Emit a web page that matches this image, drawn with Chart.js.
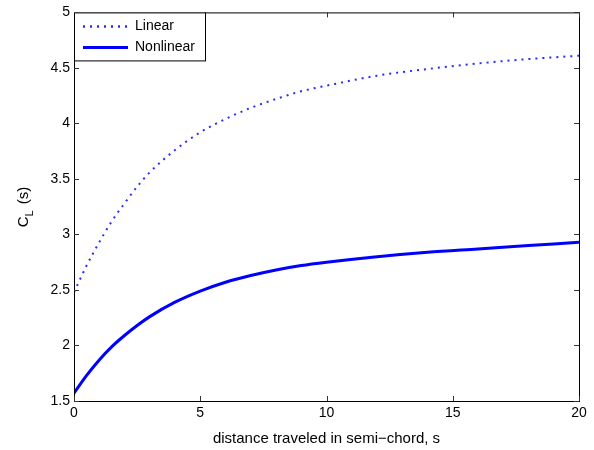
<!DOCTYPE html>
<html>
<head>
<meta charset="utf-8">
<script src="https://cdn.jsdelivr.net/npm/chart.js@4.4.1/dist/chart.umd.min.js"></script>
<style>
  html, body { margin: 0; padding: 0; background: #fff; }
  #wrap { width: 594px; height: 450px; }
</style>
</head>
<body>
<div id="wrap"><canvas id="chart1" width="594" height="450"></canvas></div>
<script>
// distance in semi-chords
const distance = [0, 0.5, 1, 1.5, 2, 2.5, 3, 4, 5, 6, 7, 8, 9, 10, 12, 14, 16, 18, 20];
const linearCL = [2.48, 2.72, 2.93, 3.12, 3.28, 3.43, 3.56, 3.76, 3.92, 4.04, 4.14, 4.22, 4.29, 4.34, 4.43, 4.49, 4.54, 4.58, 4.61];
const nonlinearCL = [1.57, 1.73, 1.87, 1.99, 2.09, 2.18, 2.26, 2.39, 2.49, 2.57, 2.63, 2.68, 2.72, 2.75, 2.80, 2.84, 2.87, 2.90, 2.93];
const xTicks = [0, 5, 10, 15, 20];
const yTicks = [1.5, 2, 2.5, 3, 3.5, 4, 4.5, 5];
const seriesNames = ['Linear', 'Nonlinear'];

const FONT = '"Liberation Sans", Arial, Helvetica, sans-serif';

function toPoints(ys) {
    return distance.map((x, i) => ({ x: x, y: ys[i] }));
}

// box around the plot with inward ticks on all four sides
const framePlugin = {
    id: 'frame',
    afterDraw(chart) {
        const { ctx, chartArea: a, scales } = chart;
        ctx.save();
        ctx.strokeStyle = '#000';
        ctx.lineWidth = 1;
        ctx.strokeRect(a.left + 0.5, a.top + 0.5, a.right - a.left, a.bottom - a.top);
        ctx.strokeStyle = '#333';
        ctx.beginPath();
        xTicks.forEach(v => {
            const px = Math.round(scales.x.getPixelForValue(v)) + 0.5;
            ctx.moveTo(px, a.bottom); ctx.lineTo(px, a.bottom - 5);
            ctx.moveTo(px, a.top); ctx.lineTo(px, a.top + 5);
        });
        yTicks.forEach(v => {
            const py = Math.round(scales.y.getPixelForValue(v)) + 0.5;
            ctx.moveTo(a.left, py); ctx.lineTo(a.left + 5, py);
            ctx.moveTo(a.right, py); ctx.lineTo(a.right - 5, py);
        });
        ctx.stroke();

        // y axis label C_L (s)
        ctx.fillStyle = '#000';
        ctx.translate(28, 207);
        ctx.rotate(-Math.PI / 2);
        ctx.textBaseline = 'alphabetic';
        ctx.textAlign = 'left';
        ctx.font = '15px ' + FONT;
        const cW = ctx.measureText('C').width;
        const lblW = cW + 8 + ctx.measureText(' (s)').width;
        let x0 = -lblW / 2;
        ctx.fillText('C', x0, 0);
        ctx.font = '11px ' + FONT;
        ctx.fillText('L', x0 + cW, 5);
        ctx.font = '15px ' + FONT;
        ctx.fillText(' (s)', x0 + cW + 8, 0);
        ctx.restore();

        // legend box
        const ds = chart.data.datasets;
        const bx = a.left, by = a.top, bw = 131, bh = 48;
        ctx.save();
        ctx.fillStyle = '#fff';
        ctx.fillRect(bx, by, bw, bh);
        ctx.strokeStyle = '#000';
        ctx.lineWidth = 1;
        ctx.strokeRect(bx + 0.5, by + 0.5, bw, bh);
        ctx.font = '14px ' + FONT;
        ctx.textBaseline = 'middle';
        ds.forEach((d, i) => {
            const ly = by + 14 + i * 21;
            ctx.strokeStyle = d.borderColor;
            ctx.lineWidth = i === 0 ? 2.5 : 3;
            ctx.setLineDash(d.borderDash || []);
            ctx.beginPath();
            ctx.moveTo(bx + 9, ly);
            ctx.lineTo(bx + 54, ly);
            ctx.stroke();
            ctx.setLineDash([]);
            ctx.fillStyle = '#000';
            ctx.fillText(d.label, bx + 61, ly);
        });
        ctx.restore();
    }
};

new Chart(document.querySelector('#chart1').getContext('2d'), {
    type: 'line',
    data: {
        datasets: [{
            label: seriesNames[0],
            data: toPoints(linearCL),
            borderColor: '#2a2aff',
            borderWidth: 2,
            borderDash: [2, 5],
            pointRadius: 0,
            cubicInterpolationMode: 'monotone',
            fill: false
        }, {
            label: seriesNames[1],
            data: toPoints(nonlinearCL),
            borderColor: '#0000ff',
            borderWidth: 3,
            pointRadius: 0,
            cubicInterpolationMode: 'monotone',
            fill: false
        }]
    },
    options: {
        responsive: false,
        animation: false,
        layout: { padding: { left: 0, top: 9, right: 15, bottom: 0 } },
        plugins: {
            legend: { display: false },
            tooltip: { enabled: false }
        },
        scales: {
            x: {
                type: 'linear',
                min: 0,
                max: 20,
                grid: { display: false, drawTicks: false },
                border: { display: false },
                afterBuildTicks: s => { s.ticks = xTicks.map(v => ({ value: v })); },
                afterFit: s => { s.height = 49; },
                ticks: {
                    color: '#000',
                    padding: 4,
                    maxRotation: 0,
                    callback: v => String(v),
                    font: { family: FONT, size: 14 }
                },
                title: {
                    display: true,
                    text: 'distance traveled in semi\u2212chord, s',
                    color: '#000',
                    padding: { top: 0, bottom: 2 },
                    font: { family: FONT, size: 15 }
                }
            },
            y: {
                min: 1.5,
                max: 5,
                grid: { display: false, drawTicks: false },
                border: { display: false },
                afterBuildTicks: s => { s.ticks = yTicks.map(v => ({ value: v })); },
                afterFit: s => { s.width = 74; },
                ticks: {
                    color: '#000',
                    padding: 4,
                    callback: v => String(v),
                    font: { family: FONT, size: 14 }
                }
            }
        }
    },
    plugins: [framePlugin]
});
</script>
</body>
</html>
